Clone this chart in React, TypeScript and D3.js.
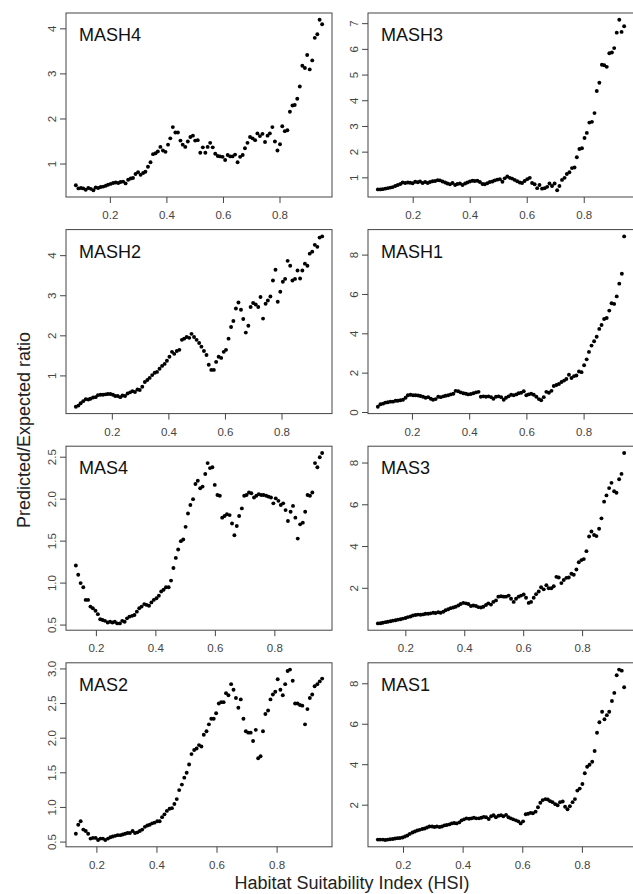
import * as d3 from "d3";

// HSI bin centres and predicted/expected ratios
const MASH4_X = [0.078,0.087,0.096,0.104,0.113,0.122,0.131,0.140,0.148,0.157,0.166,0.175,0.184,0.192,0.201,0.210,0.219,0.228,0.236,0.245,0.254,0.263,0.272,0.280,0.289,0.298,0.307,0.316,0.324,0.333,0.342,0.351,0.360,0.368,0.377,0.386,0.395,0.404,0.412,0.421,0.430,0.439,0.448,0.456,0.465,0.474,0.483,0.492,0.500,0.509,0.518,0.527,0.536,0.544,0.553,0.562,0.571,0.580,0.588,0.597,0.606,0.615,0.624,0.632,0.641,0.650,0.659,0.668,0.676,0.685,0.694,0.703,0.712,0.720,0.729,0.738,0.747,0.756,0.764,0.773,0.782,0.791,0.800,0.808,0.817,0.826,0.835,0.844,0.852,0.861,0.870,0.879,0.888,0.896,0.905,0.914,0.923,0.932,0.940,0.949];
const MASH4_Y = [0.53,0.46,0.47,0.46,0.43,0.47,0.45,0.42,0.48,0.47,0.49,0.50,0.52,0.54,0.56,0.58,0.59,0.58,0.60,0.61,0.57,0.65,0.68,0.69,0.78,0.82,0.76,0.80,0.83,0.94,1.04,1.22,1.24,1.28,1.38,1.30,1.27,1.43,1.57,1.82,1.70,1.70,1.52,1.43,1.38,1.50,1.60,1.63,1.52,1.53,1.25,1.37,1.25,1.38,1.47,1.37,1.23,1.18,1.17,1.16,1.09,1.20,1.17,1.17,1.21,1.04,1.16,1.20,1.35,1.47,1.60,1.57,1.53,1.68,1.62,1.67,1.49,1.63,1.68,1.82,1.50,1.30,1.44,1.84,1.73,1.75,2.16,2.30,2.31,2.45,2.72,3.18,3.13,3.42,3.10,3.30,3.80,3.88,4.20,4.10];

const MASH3_X = [0.076,0.085,0.093,0.102,0.111,0.120,0.128,0.137,0.146,0.155,0.163,0.172,0.181,0.189,0.198,0.207,0.216,0.224,0.233,0.242,0.251,0.259,0.268,0.277,0.286,0.294,0.303,0.312,0.320,0.329,0.338,0.347,0.355,0.364,0.373,0.382,0.390,0.399,0.408,0.416,0.425,0.434,0.443,0.451,0.460,0.469,0.478,0.486,0.495,0.504,0.513,0.521,0.530,0.539,0.547,0.556,0.565,0.574,0.582,0.591,0.600,0.609,0.617,0.626,0.635,0.643,0.652,0.661,0.670,0.678,0.687,0.696,0.705,0.713,0.722,0.731,0.739,0.748,0.757,0.766,0.774,0.783,0.792,0.801,0.809,0.818,0.827,0.836,0.844,0.853,0.862,0.870,0.879,0.888,0.897,0.905,0.914,0.923,0.931,0.940];
const MASH3_Y = [0.55,0.55,0.56,0.58,0.60,0.62,0.64,0.68,0.72,0.76,0.82,0.80,0.82,0.81,0.79,0.85,0.83,0.86,0.80,0.84,0.80,0.84,0.87,0.88,0.91,0.90,0.86,0.82,0.78,0.75,0.80,0.72,0.76,0.78,0.72,0.78,0.82,0.86,0.89,0.88,0.89,0.84,0.76,0.75,0.79,0.84,0.86,0.90,0.93,0.95,0.85,0.98,1.05,1.00,0.97,0.92,0.87,0.82,0.80,0.88,0.95,1.00,0.80,0.75,0.60,0.72,0.58,0.60,0.65,0.78,0.68,0.78,0.52,0.68,0.92,1.00,1.15,1.22,1.38,1.40,1.80,2.12,2.15,2.55,2.75,3.15,3.18,3.52,4.38,4.70,5.40,5.38,5.32,5.85,5.88,6.05,6.65,7.15,6.68,6.90];

const MASH2_X = [0.071,0.080,0.088,0.097,0.106,0.115,0.123,0.132,0.141,0.149,0.158,0.167,0.176,0.184,0.193,0.202,0.210,0.219,0.228,0.236,0.245,0.254,0.263,0.271,0.280,0.289,0.297,0.306,0.315,0.324,0.332,0.341,0.350,0.358,0.367,0.376,0.385,0.393,0.402,0.411,0.419,0.428,0.437,0.446,0.454,0.463,0.472,0.480,0.489,0.498,0.507,0.515,0.524,0.533,0.541,0.550,0.559,0.567,0.576,0.585,0.594,0.602,0.611,0.620,0.628,0.637,0.646,0.655,0.663,0.672,0.681,0.689,0.698,0.707,0.716,0.724,0.733,0.742,0.750,0.759,0.768,0.777,0.785,0.794,0.803,0.811,0.820,0.829,0.837,0.846,0.855,0.864,0.872,0.881,0.890,0.898,0.907,0.916,0.925,0.933,0.942];
const MASH2_Y = [0.23,0.26,0.32,0.37,0.42,0.41,0.43,0.46,0.47,0.52,0.53,0.53,0.54,0.55,0.55,0.53,0.50,0.50,0.47,0.51,0.50,0.56,0.59,0.62,0.60,0.66,0.65,0.73,0.85,0.90,0.95,1.02,1.08,1.10,1.18,1.25,1.30,1.38,1.48,1.60,1.55,1.62,1.65,1.90,1.93,1.97,1.95,2.05,1.97,1.90,1.82,1.73,1.62,1.52,1.28,1.15,1.15,1.35,1.48,1.45,1.60,1.65,1.93,2.22,2.37,2.68,2.83,2.65,2.42,2.08,2.25,2.72,2.82,2.78,2.72,2.97,2.43,2.80,2.88,2.98,3.38,3.65,2.85,3.10,3.35,3.42,3.87,3.75,3.38,3.42,3.63,3.43,3.63,3.80,3.75,4.05,4.10,4.27,4.22,4.45,4.48];

const MASH1_X = [0.079,0.088,0.097,0.105,0.114,0.123,0.132,0.141,0.149,0.158,0.167,0.176,0.184,0.193,0.202,0.211,0.220,0.228,0.237,0.246,0.255,0.264,0.272,0.281,0.290,0.299,0.308,0.316,0.325,0.334,0.343,0.351,0.360,0.369,0.378,0.387,0.395,0.404,0.413,0.422,0.431,0.439,0.448,0.457,0.466,0.475,0.483,0.492,0.501,0.510,0.519,0.527,0.536,0.545,0.554,0.563,0.571,0.580,0.589,0.598,0.606,0.615,0.624,0.633,0.642,0.650,0.659,0.668,0.677,0.686,0.694,0.703,0.712,0.721,0.730,0.738,0.747,0.756,0.765,0.773,0.782,0.791,0.800,0.809,0.817,0.826,0.835,0.844,0.853,0.861,0.870,0.879,0.888,0.896,0.905,0.914,0.923,0.932,0.940];
const MASH1_Y = [0.29,0.42,0.45,0.50,0.52,0.55,0.55,0.60,0.60,0.62,0.65,0.75,0.88,0.90,0.88,0.88,0.86,0.84,0.80,0.75,0.78,0.70,0.65,0.68,0.80,0.78,0.82,0.85,0.88,0.92,0.95,1.10,1.08,1.02,0.98,0.95,0.92,0.94,0.98,1.02,1.05,0.80,0.82,0.80,0.82,0.78,0.70,0.80,0.82,0.78,0.65,0.75,0.82,0.90,0.88,0.92,0.98,1.00,1.08,0.88,0.92,0.95,0.90,0.80,0.68,0.62,0.78,1.05,1.00,1.10,1.35,1.40,1.45,1.55,1.62,1.70,1.92,1.75,1.85,1.88,2.08,2.05,2.40,2.70,3.08,3.40,3.62,3.85,4.25,4.45,4.75,4.80,5.18,5.55,5.52,5.90,6.55,7.05,8.95];

const MAS4_X = [0.131,0.139,0.147,0.156,0.164,0.172,0.180,0.188,0.197,0.205,0.213,0.221,0.229,0.238,0.246,0.254,0.262,0.270,0.279,0.287,0.295,0.303,0.311,0.320,0.328,0.336,0.344,0.352,0.361,0.369,0.377,0.385,0.393,0.402,0.410,0.418,0.426,0.434,0.443,0.451,0.459,0.467,0.475,0.484,0.492,0.500,0.508,0.516,0.525,0.533,0.541,0.549,0.557,0.566,0.574,0.582,0.590,0.598,0.607,0.615,0.623,0.631,0.639,0.648,0.656,0.664,0.672,0.680,0.689,0.697,0.705,0.713,0.721,0.730,0.738,0.746,0.754,0.762,0.771,0.779,0.787,0.795,0.803,0.812,0.820,0.828,0.836,0.844,0.853,0.861,0.869,0.877,0.885,0.894,0.902,0.910,0.918,0.926,0.935,0.943,0.951,0.959];
const MAS4_Y = [1.21,1.10,1.00,0.95,0.80,0.80,0.72,0.70,0.67,0.63,0.57,0.56,0.55,0.53,0.54,0.53,0.54,0.52,0.52,0.55,0.54,0.58,0.60,0.61,0.62,0.66,0.70,0.72,0.75,0.74,0.73,0.77,0.80,0.82,0.85,0.90,0.92,0.95,0.95,1.03,1.18,1.30,1.40,1.50,1.52,1.67,1.83,1.93,2.00,2.18,2.22,2.13,2.15,2.30,2.43,2.37,2.38,2.17,2.05,2.04,1.78,1.80,1.82,1.81,1.71,1.57,1.68,1.80,1.89,2.04,2.05,2.08,2.07,2.02,2.04,2.06,2.05,2.05,2.04,2.03,2.02,1.95,2.01,1.98,1.93,1.95,1.87,1.74,1.85,1.92,1.78,1.53,1.70,1.72,1.85,2.05,2.04,2.08,2.43,2.38,2.50,2.55];

const MAS3_X = [0.105,0.114,0.122,0.131,0.139,0.148,0.156,0.165,0.173,0.182,0.190,0.199,0.207,0.216,0.224,0.233,0.241,0.250,0.259,0.267,0.276,0.284,0.293,0.301,0.310,0.318,0.327,0.335,0.344,0.352,0.361,0.369,0.378,0.386,0.395,0.404,0.412,0.421,0.429,0.438,0.446,0.455,0.463,0.472,0.480,0.489,0.497,0.506,0.514,0.523,0.532,0.540,0.549,0.557,0.566,0.574,0.583,0.591,0.600,0.608,0.617,0.625,0.634,0.642,0.651,0.659,0.668,0.677,0.685,0.694,0.702,0.711,0.719,0.728,0.736,0.745,0.753,0.762,0.770,0.779,0.787,0.796,0.804,0.813,0.822,0.830,0.839,0.847,0.856,0.864,0.873,0.881,0.890,0.898,0.907,0.915,0.924,0.932,0.941];
const MAS3_Y = [0.32,0.33,0.35,0.38,0.40,0.42,0.45,0.47,0.50,0.52,0.55,0.58,0.62,0.65,0.70,0.72,0.74,0.73,0.75,0.78,0.78,0.80,0.83,0.82,0.85,0.83,0.88,0.95,1.00,1.05,1.08,1.12,1.18,1.25,1.30,1.28,1.25,1.15,1.18,1.15,1.10,1.08,1.12,1.20,1.28,1.22,1.35,1.42,1.60,1.62,1.60,1.60,1.65,1.50,1.35,1.50,1.60,1.65,1.70,1.55,1.30,1.35,1.55,1.72,1.85,2.05,1.95,2.15,2.00,2.00,2.10,2.55,2.52,2.25,2.40,2.50,2.52,2.70,2.65,2.90,3.25,3.35,3.40,3.78,4.48,4.72,4.55,4.50,4.85,5.35,6.15,6.45,6.80,7.05,6.65,6.58,7.22,7.48,8.48];

const MAS2_X = [0.130,0.138,0.146,0.155,0.163,0.171,0.179,0.187,0.196,0.204,0.212,0.220,0.228,0.237,0.245,0.253,0.261,0.269,0.278,0.286,0.294,0.302,0.310,0.319,0.327,0.335,0.343,0.351,0.360,0.368,0.376,0.384,0.392,0.401,0.409,0.417,0.425,0.433,0.442,0.450,0.458,0.466,0.474,0.483,0.491,0.499,0.507,0.515,0.524,0.532,0.540,0.548,0.556,0.565,0.573,0.581,0.589,0.597,0.606,0.614,0.622,0.630,0.638,0.647,0.655,0.663,0.671,0.679,0.688,0.696,0.704,0.712,0.720,0.729,0.737,0.745,0.753,0.761,0.770,0.778,0.786,0.794,0.802,0.811,0.819,0.827,0.835,0.843,0.852,0.860,0.868,0.876,0.884,0.893,0.901,0.909,0.917,0.925,0.934,0.942,0.950];
const MAS2_Y = [0.62,0.75,0.80,0.68,0.66,0.62,0.55,0.56,0.56,0.53,0.55,0.55,0.53,0.55,0.57,0.58,0.59,0.60,0.60,0.61,0.62,0.63,0.63,0.66,0.63,0.64,0.66,0.68,0.72,0.74,0.75,0.77,0.78,0.80,0.80,0.86,0.90,0.95,0.98,0.99,1.05,1.12,1.25,1.33,1.43,1.50,1.62,1.77,1.83,1.85,1.90,1.88,2.05,2.10,2.20,2.28,2.28,2.36,2.50,2.52,2.52,2.65,2.62,2.78,2.70,2.58,2.44,2.56,2.28,2.10,2.08,2.08,1.96,2.12,1.71,1.74,2.10,2.35,2.40,2.56,2.63,2.67,2.85,2.70,2.62,2.78,2.97,2.99,2.83,2.50,2.50,2.48,2.47,2.20,2.42,2.58,2.63,2.75,2.78,2.82,2.86];

const MAS1_X = [0.114,0.122,0.131,0.139,0.147,0.155,0.164,0.172,0.180,0.188,0.197,0.205,0.213,0.221,0.230,0.238,0.246,0.254,0.263,0.271,0.279,0.287,0.296,0.304,0.312,0.321,0.329,0.337,0.345,0.354,0.362,0.370,0.378,0.387,0.395,0.403,0.411,0.420,0.428,0.436,0.444,0.453,0.461,0.469,0.477,0.486,0.494,0.502,0.510,0.519,0.527,0.535,0.544,0.552,0.560,0.568,0.577,0.585,0.593,0.601,0.610,0.618,0.626,0.634,0.643,0.651,0.659,0.667,0.676,0.684,0.692,0.700,0.709,0.717,0.725,0.734,0.742,0.750,0.758,0.767,0.775,0.783,0.791,0.800,0.808,0.816,0.824,0.833,0.841,0.849,0.857,0.866,0.874,0.882,0.890,0.899,0.907,0.915,0.923,0.932,0.940];
const MAS1_Y = [0.30,0.30,0.30,0.28,0.30,0.32,0.33,0.35,0.37,0.38,0.40,0.45,0.50,0.58,0.65,0.70,0.75,0.78,0.82,0.85,0.90,0.95,0.95,0.92,0.95,0.92,0.95,1.00,1.02,1.05,1.10,1.12,1.10,1.15,1.25,1.30,1.35,1.33,1.35,1.38,1.35,1.35,1.38,1.42,1.40,1.32,1.45,1.50,1.40,1.48,1.50,1.45,1.52,1.40,1.35,1.30,1.25,1.20,1.10,1.20,1.55,1.58,1.62,1.60,1.68,1.90,2.12,2.25,2.30,2.28,2.20,2.15,2.05,2.00,2.15,2.18,1.92,1.80,1.95,2.15,2.30,2.72,2.82,3.05,3.58,3.90,4.00,4.15,4.68,5.58,6.10,6.62,6.25,6.45,6.62,7.15,7.55,8.42,8.70,8.65,7.83];

const X_TICKS = [0.2, 0.4, 0.6, 0.8];
const MASH4_TICKS = [1, 2, 3, 4];
const MASH3_TICKS = [1, 2, 3, 4, 5, 6, 7];
const MASH2_TICKS = [1, 2, 3, 4];
const MASH1_TICKS = [0, 2, 4, 6, 8];
const MAS4_TICKS = [0.5, 1.0, 1.5, 2.0, 2.5];
const MAS3_TICKS = [2, 4, 6, 8];
const MAS2_TICKS = [0.5, 1.0, 1.5, 2.0, 2.5, 3.0];
const MAS1_TICKS = [2, 4, 6, 8];

// row-major, 4 rows x 2 columns
const panels = [
  { name: "MASH4", xs: MASH4_X, ys: MASH4_Y, ticks: MASH4_TICKS, fmt: "d" },
  { name: "MASH3", xs: MASH3_X, ys: MASH3_Y, ticks: MASH3_TICKS, fmt: "d" },
  { name: "MASH2", xs: MASH2_X, ys: MASH2_Y, ticks: MASH2_TICKS, fmt: "d" },
  { name: "MASH1", xs: MASH1_X, ys: MASH1_Y, ticks: MASH1_TICKS, fmt: "d" },
  { name: "MAS4", xs: MAS4_X, ys: MAS4_Y, ticks: MAS4_TICKS, fmt: ".1f" },
  { name: "MAS3", xs: MAS3_X, ys: MAS3_Y, ticks: MAS3_TICKS, fmt: "d" },
  { name: "MAS2", xs: MAS2_X, ys: MAS2_Y, ticks: MAS2_TICKS, fmt: ".1f" },
  { name: "MAS1", xs: MAS1_X, ys: MAS1_Y, ticks: MAS1_TICKS, fmt: "d" },
];

const W = 633;
const H = 894;
const colLeft = [66, 368];
const boxW = 266;
const rowTop = 13;
const rowStep = 216.6;
const boxH = 184;
const font = "'Liberation Sans', Arial, Helvetica, sans-serif";

// R-style axis range: data extent plus 4% on each side
function padded(vals: number[]): [number, number] {
  const [lo, hi] = d3.extent(vals) as [number, number];
  const p = (hi - lo) * 0.04;
  return [lo - p, hi + p];
}

function Panel({ p, left, top }: any) {
  const x = d3.scaleLinear().domain(padded(p.xs)).range([left, left + boxW]);
  const y = d3.scaleLinear().domain(padded(p.ys)).range([top + boxH, top]);
  const f = d3.format(p.fmt);
  const pts = d3.zip(p.xs, p.ys) as [number, number][];
  const bottom = top + boxH;

  return (
    <g>
      <rect x={left} y={top} width={boxW} height={boxH} fill="none" stroke="#444" strokeWidth={1} />
      {X_TICKS.map((t) => (
        <g key={"x" + t}>
          <line x1={x(t)} x2={x(t)} y1={bottom} y2={bottom + 6} stroke="#444" />
          <text x={x(t)} y={bottom + 22} textAnchor="middle" fontSize={11.5} fill="#444">
            {t}
          </text>
        </g>
      ))}
      {p.ticks.map((t: number) => (
        <g key={"y" + t}>
          <line x1={left - 6} x2={left} y1={y(t)} y2={y(t)} stroke="#444" />
          <text
            transform={`translate(${left - 10},${y(t)}) rotate(-90)`}
            textAnchor="middle"
            fontSize={11.5}
            fill="#444"
          >
            {f(t)}
          </text>
        </g>
      ))}
      {pts.map((d, i) => (
        <circle key={i} cx={x(d[0])} cy={y(d[1])} r={1.95} fill="#000" />
      ))}
      <text x={left + 13} y={top + 28} fontSize={18} fill="#111">
        {p.name}
      </text>
    </g>
  );
}

export default function App() {
  return (
    <svg
      width={W}
      height={H}
      style={{ position: "absolute", left: 0, top: 0, background: "#fff" }}
      fontFamily={font}
    >
      <rect width={W} height={H} fill="#fff" />
      {panels.map((p, i) => (
        <Panel key={p.name} p={p} left={colLeft[i % 2]} top={rowTop + Math.floor(i / 2) * rowStep} />
      ))}
      <text x={352} y={889} textAnchor="middle" fontSize={18} fill="#222">
        Habitat Suitability Index (HSI)
      </text>
      <text transform="translate(30,430) rotate(-90)" textAnchor="middle" fontSize={18} fill="#222">
        Predicted/Expected ratio
      </text>
    </svg>
  );
}
